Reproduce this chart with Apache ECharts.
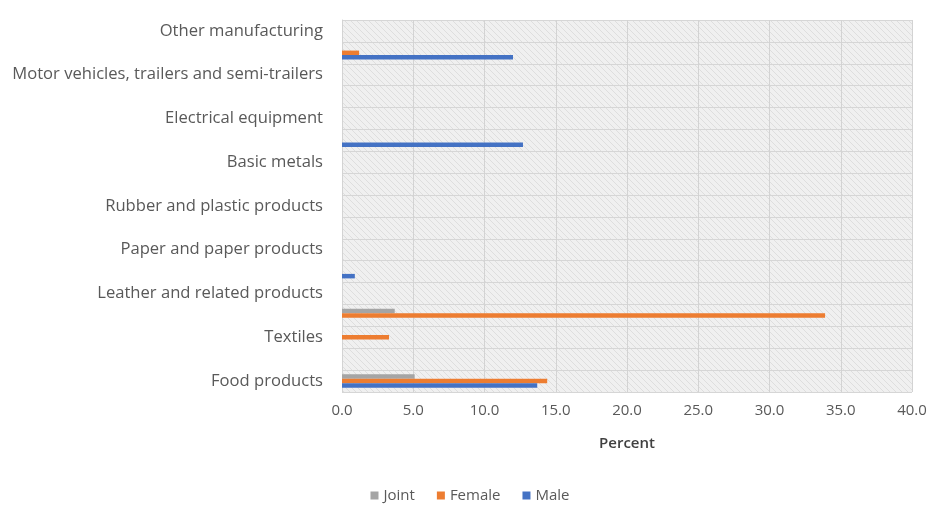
<!DOCTYPE html>
<html>
<head>
<meta charset="utf-8">
<script src="https://cdn.jsdelivr.net/npm/echarts@6/dist/echarts.min.js"></script>
<style>
  html, body { margin: 0; padding: 0; background: #ffffff; }
  #chart { width: 940px; height: 515px; }
</style>
</head>
<body>
<div id="chart"></div>
<script>
// Manufacturing divisions, bottom to top; every other name is shown on the axis
const categories = [
  'Food products',
  'Beverages',
  'Textiles',
  'Wearing apparel',
  'Leather and related products',
  'Wood and products of wood',
  'Paper and paper products',
  'Chemicals and chemical products',
  'Rubber and plastic products',
  'Other non-metallic mineral products',
  'Basic metals',
  'Fabricated metal products',
  'Electrical equipment',
  'Machinery and equipment',
  'Motor vehicles, trailers and semi-trailers',
  'Furniture',
  'Other manufacturing'
];

// Share of firms by ownership, percent
const maleValues   = [13.7, 0, 0,   0,    0, 0.9, 0, 0, 0, 0, 0, 12.7, 0, 0, 0, 12.0, 0];
const femaleValues = [14.4, 0, 3.3, 33.9, 0, 0,   0, 0, 0, 0, 0, 0,    0, 0, 0, 1.2,  0];
const jointValues  = [5.1,  0, 0,   3.7,  0, 0,   0, 0, 0, 0, 0, 0,    0, 0, 0, 0,    0];

const legendOrder = ['Joint', 'Female', 'Male'];
const xTicks = { min: 0, max: 40, interval: 5 };

// Light diagonal hatch for the plot background
function hatch() {
  const c = document.createElement('canvas');
  c.width = 6; c.height = 6;
  const g = c.getContext('2d');
  g.fillStyle = '#f0f0f0';
  g.fillRect(0, 0, 6, 6);
  g.strokeStyle = '#dedede';
  g.lineWidth = 1;
  g.beginPath();
  g.moveTo(0, 0); g.lineTo(6, 6);
  g.moveTo(-3, 3); g.lineTo(3, 9);
  g.moveTo(3, -3); g.lineTo(9, 3);
  g.stroke();
  return c;
}

const font = '"Open Sans", "Liberation Sans", sans-serif';
const textGrey = '#595959';

const chart = echarts.init(document.getElementById('chart'), null, { renderer: 'canvas' });

const barCommon = {
  type: 'bar',
  barWidth: 4.5,
  barGap: '0%',
  silent: true
};

// Bars stack top-down within a band in series order: Joint, Female, Male
chart.setOption({
  animation: false,
  backgroundColor: '#ffffff',
  textStyle: { fontFamily: font },
  grid: {
    left: 342,
    right: 28,
    top: 20,
    bottom: 123,
    show: true,
    borderWidth: 0,
    backgroundColor: { image: hatch(), repeat: 'repeat' }
  },
  legend: {
    data: legendOrder,
    bottom: 7,
    left: 'center',
    itemWidth: 8,
    itemHeight: 8,
    itemGap: 22,
    icon: 'rect',
    textStyle: { color: textGrey, fontSize: 15, fontFamily: font }
  },
  xAxis: {
    type: 'value',
    min: xTicks.min,
    max: xTicks.max,
    interval: xTicks.interval,
    name: 'Percent',
    nameLocation: 'middle',
    nameGap: 44,
    nameTextStyle: { color: '#404040', fontSize: 15, fontWeight: 600, fontFamily: font },
    axisLine: { show: false },
    axisTick: { show: false },
    axisLabel: {
      color: textGrey, fontSize: 15, margin: 11, fontFamily: font,
      formatter: v => v.toFixed(1)
    },
    splitLine: { show: true, lineStyle: { color: '#d3d3d3', width: 1 } }
  },
  yAxis: {
    type: 'category',
    data: categories,
    axisLine: { show: true, lineStyle: { color: '#d3d3d3' } },
    axisTick: { show: false },
    axisLabel: {
      interval: 1,
      color: textGrey,
      fontSize: 16.6,
      margin: 19,
      fontFamily: font
    },
    splitLine: { show: true, interval: 0, lineStyle: { color: '#d6d6d6', width: 1 } }
  },
  series: [
    Object.assign({ name: 'Joint',  data: jointValues,  itemStyle: { color: '#A5A5A5' } }, barCommon),
    Object.assign({ name: 'Female', data: femaleValues, itemStyle: { color: '#ED7D31' } }, barCommon),
    Object.assign({ name: 'Male',   data: maleValues,   itemStyle: { color: '#4472C4' } }, barCommon)
  ]
});
</script>
</body>
</html>
